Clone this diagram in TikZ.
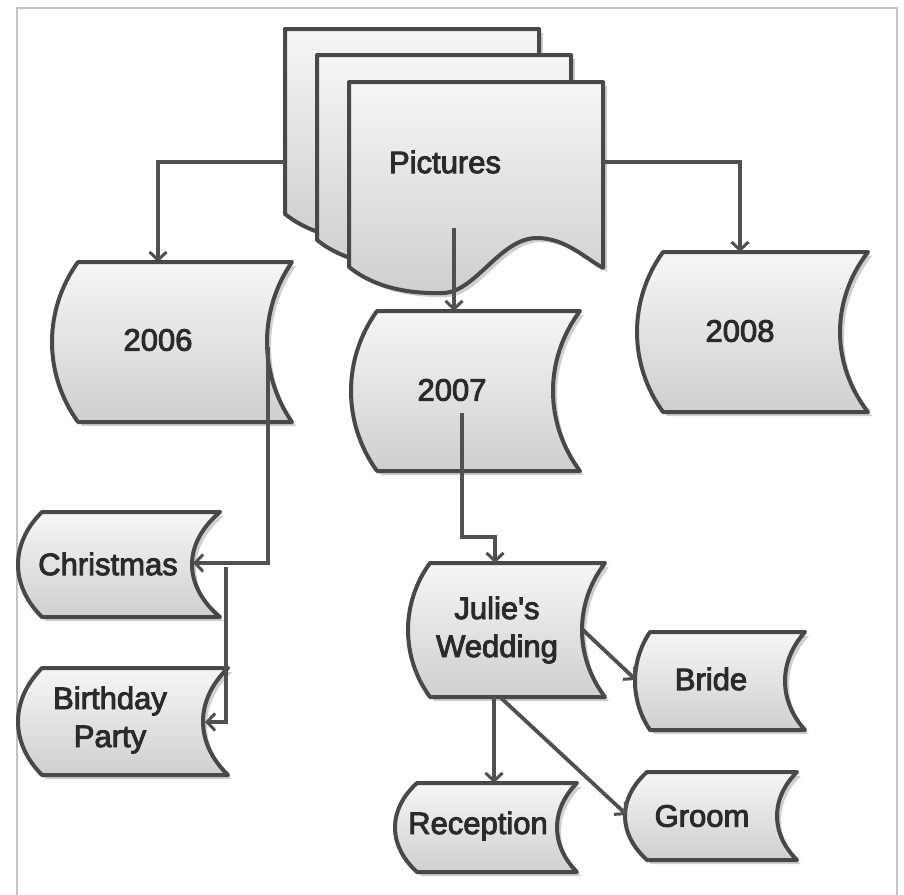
\documentclass[tikz,border=0pt]{standalone}
\usepackage{fontspec}
\newfontfamily\lblfont{Liberation Sans}[FakeBold=3]
\usetikzlibrary{arrows.meta,calc}
\definecolor{edgec}{HTML}{484848}
\definecolor{connc}{HTML}{505050}
\definecolor{topc}{HTML}{F6F6F6}
\definecolor{botc}{HTML}{CFCFCF}
\definecolor{framec}{HTML}{C4C4C4}
\definecolor{txtc}{HTML}{2A2A2A}
\definecolor{shadc}{HTML}{B0B0B0}
\tikzset{
  boxshape/.style={draw=edgec, line width=4pt, line join=round, top color=topc, bottom color=botc},
  shadowshape/.style={fill=shadc, opacity=0.6},
  conn/.style={draw=connc, line width=3.8pt, -{Straight Barb[length=8pt,width=17pt,line width=3pt]}},
  lbl/.style={text=txtc, font=\lblfont\fontsize{31}{38}\selectfont, align=center, inner sep=0pt},
}
% stored-data path: #1 left extreme, #2 left corner, #3 right corner, #4 right concave, #5 top, #6 bottom
\newcommand\sdpath[6]{(#2,#5) -- (#3,#5)
  .. controls ({#3-4/3*(#3-#4)},{#5+0.3*(#6-#5)}) and ({#3-4/3*(#3-#4)},{#6-0.3*(#6-#5)}) .. (#3,#6)
  -- (#2,#6)
  .. controls ({#2-4/3*(#2-#1)},{#6-0.3*(#6-#5)}) and ({#2-4/3*(#2-#1)},{#5+0.3*(#6-#5)}) .. (#2,#5) -- cycle}
\newcommand\sdshape[6]{%
  \begin{scope}[shift={(4,4)}]\path[shadowshape] \sdpath{#1}{#2}{#3}{#4}{#5}{#6};\end{scope}
  \path[boxshape] \sdpath{#1}{#2}{#3}{#4}{#5}{#6};}
\newcommand\docpath{(349,82) -- (603,82) -- (603,268)
  .. controls (585,258) and (565,238) .. (537,238)
  .. controls (500,238) and (476,292) .. (443,293)
  .. controls (410,294) and (375,288) .. (349,267) -- cycle}
\begin{document}
\begin{tikzpicture}[x=1pt,y=-1pt]
\useasboundingbox (0,0) rectangle (904,894);
\fill[white] (0,0) rectangle (904,894);
\draw[framec, line width=2.5pt] (17,900) -- (17,8) -- (897,8) -- (897,900);

% Pictures (multi-document)
\foreach \dx/\dy in {-64/-53,-32/-27,0/0}{
  \begin{scope}[shift={(\dx+4,\dy+4)}]\path[shadowshape] \docpath;\end{scope}
  \begin{scope}[shift={(\dx,\dy)}]\path[boxshape] \docpath;\end{scope}
}
\node[lbl] (pic) at (445,162) {Pictures};

% stored data boxes
\sdshape{52}{78}{292}{267}{262}{422}
\node[lbl] (y2006) at (158,340) {2006};
\sdshape{351}{377}{580}{553}{311}{471}
\node[lbl] (y2007) at (452,390) {2007};
\sdshape{637}{663}{868}{840}{252}{412}
\node[lbl] (y2008) at (740,331) {2008};
\sdshape{18}{42}{220}{192}{512}{617}
\node[lbl] (xmas) at (108,564) {Christmas};
\sdshape{18}{42}{228}{203}{668}{775}
\node[lbl] (bday) at (110,720) {Birthday\\Party};
\sdshape{408}{430}{605}{582}{563}{697}
\node[lbl] (wed) at (497,630) {Julie's\\Wedding};
\sdshape{635}{650}{805}{785}{632}{730}
\node[lbl] (bride) at (711,679) {Bride};
\sdshape{625}{647}{797}{777}{772}{860}
\node[lbl] (groom) at (702,816) {Groom};
\sdshape{395}{417}{577}{557}{783}{872}
\node[lbl] (recep) at (478,826) {Reception};

% connection points
\coordinate (picL) at (285,162);
\coordinate (picR) at (603,162);
\coordinate (picB) at (454,228);
\coordinate (t2006) at (158,262);
\coordinate (t2007) at (454,311);
\coordinate (t2008) at (740,252);
\coordinate (s2006) at (268,347);
\coordinate (inXmas) at (193,563);
\coordinate (sXmas) at (226,567);
\coordinate (inBday) at (205,722);
\coordinate (s2007) at (462,413);
\coordinate (bend2007) at (495,537);
\coordinate (tWed) at (495,563);
\coordinate (sWedR) at (583,630);
\coordinate (inBride) at (636,680);
\coordinate (sWedB) at (494,697);
\coordinate (tRecep) at (494,783);
\coordinate (sWedB2) at (500,697);
\coordinate (inGroom) at (627,815);

\draw[conn] (picL) -| (t2006);
\draw[conn] (picR) -| (t2008);
\draw[conn] (picB) -- (t2007);
\draw[conn] (s2006) |- (inXmas);
\draw[conn] (sXmas) |- (inBday);
\draw[conn] (s2007) |- (bend2007) -- (tWed);
\draw[conn] (sWedR) -- (inBride);
\draw[conn] (sWedB) -- (tRecep);
\draw[conn] (sWedB2) -- (inGroom);
\end{tikzpicture}
\end{document}
